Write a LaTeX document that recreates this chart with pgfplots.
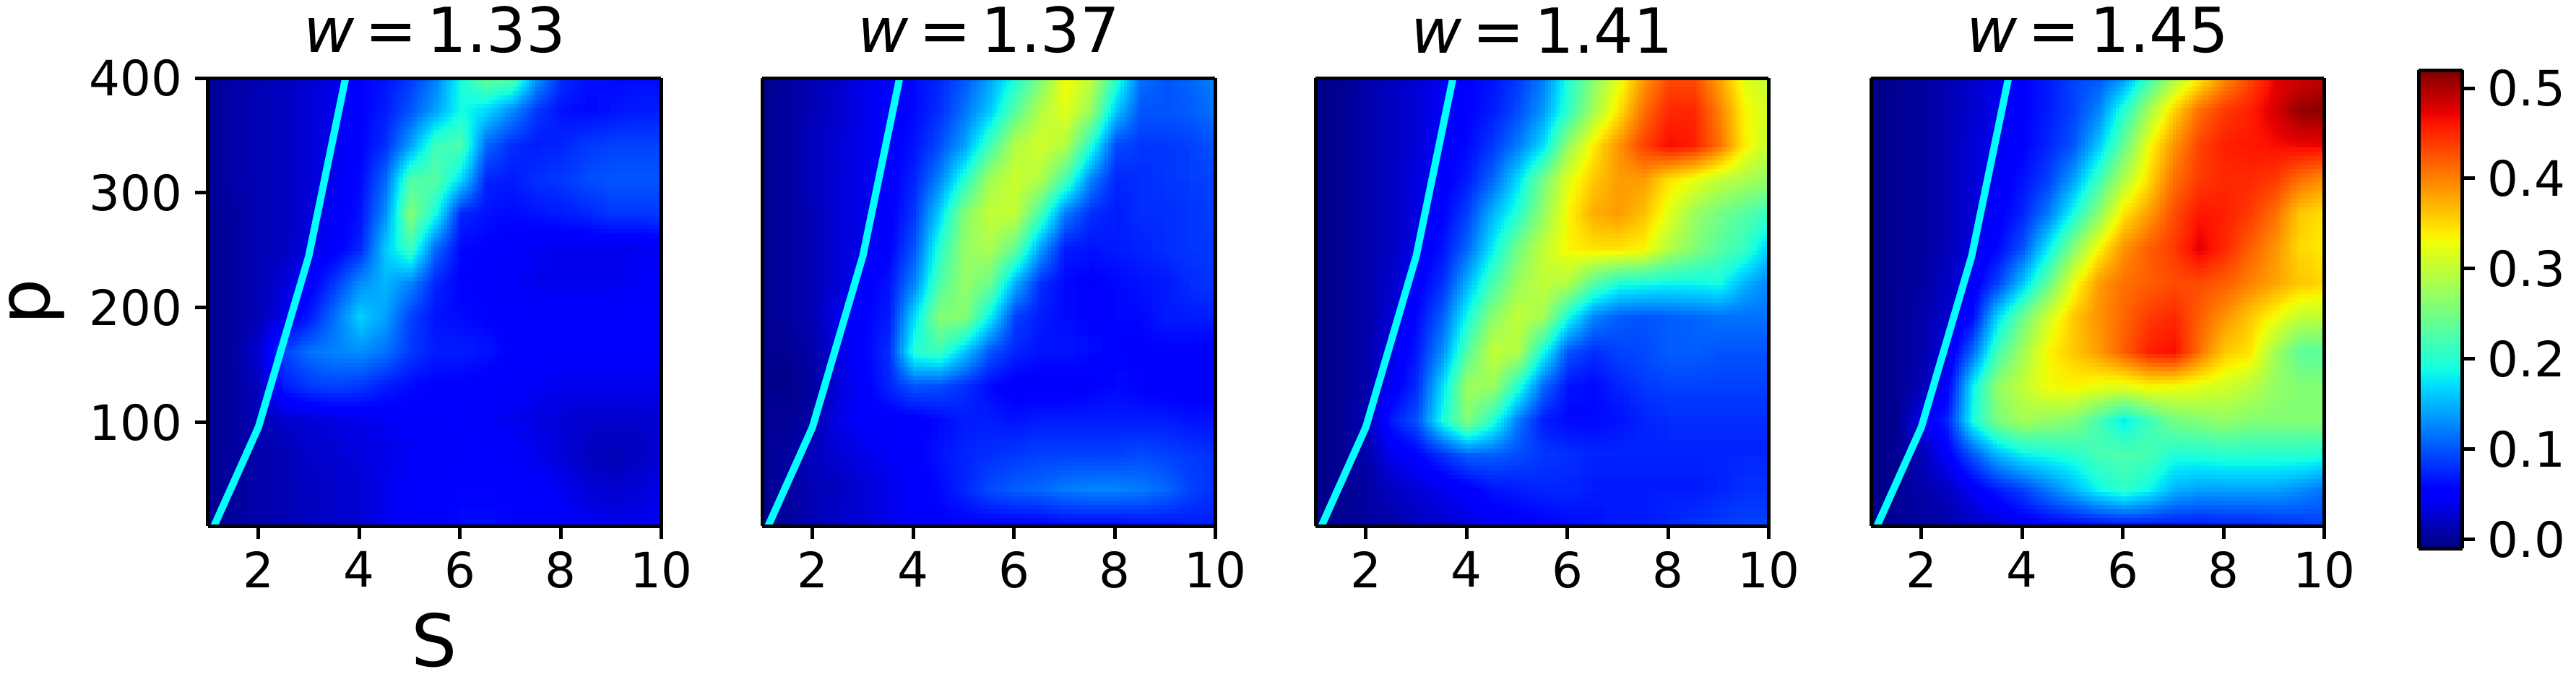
\documentclass[border=0pt]{standalone}
\usepackage{fontspec}
\setmainfont{DejaVu Sans}
\usepackage{pgfplots}
\usepgfplotslibrary{patchplots}
\pgfplotsset{compat=1.18}
\definecolor{linecyan}{rgb}{0,1,1}
\pgfplotsset{
 colormap={mpljet}{rgb(0pt)=(0,0,.5); rgb(22pt)=(0,0,1); rgb(25pt)=(0,0,1); rgb(68pt)=(0,.86,1); rgb(70pt)=(0,.9,.97); rgb(75pt)=(.08,1,.89); rgb(128pt)=(.935,1,.03); rgb(130pt)=(.968,.963,0); rgb(132pt)=(1,.926,0); rgb(178pt)=(1,.074,0); rgb(182pt)=(.91,0,0); rgb(200pt)=(.5,0,0)},
 panel/.style={
  scale only axis, width=125.5pt, height=124pt, anchor=south west,
  xmin=1,xmax=10,ymin=10,ymax=400, view={0}{90},
  colormap name=mpljet, point meta min=-0.01, point meta max=0.52,
  xtick={2,4,6,8,10}, ytick={100,200,300,400},
  tick align=outside, tick pos=left, major tick length=3.5pt,
  every tick/.style={black,line width=1pt},
  axis line style={line width=1pt},
  /pgf/number format/assume math mode=true,
  tick label style={font=\fontsize{13.5}{14}\selectfont},
  title style={font=\fontsize{17.2}{18}\selectfont,yshift=-2.6pt},
  table/row sep=\\,
 },
 heat/.style={surf,shader=interp,patch type=bilinear,mesh/cols=19},
 bound/.style={linecyan,line width=2pt},
}
\begin{document}
\begin{tikzpicture}
\path[use as bounding box] (0,0) rectangle (713.2pt,188.6pt);
\begin{axis}[panel,at={(57.6pt,43pt)},title={\textit{w}\,=\,1.33},
 xlabel={S},ylabel={p},
 xlabel style={font=\fontsize{20}{20}\selectfont},
 ylabel style={font=\fontsize{20}{20}\selectfont}]
\addplot3[heat] table {
1 400 .00\\1.5 400 .01\\2 400 .015\\2.5 400 .02\\3 400 .03\\3.5 400 .04\\4 400 .055\\4.5 400 .065\\5 400 .085\\5.5 400 .12\\6 400 .19\\6.5 400 .245\\7 400 .24\\7.5 400 .14\\8 400 .08\\8.5 400 .065\\9 400 .06\\9.5 400 .06\\10 400 .06\\
1 370 .00\\1.5 370 .01\\2 370 .015\\2.5 370 .02\\3 370 .03\\3.5 370 .04\\4 370 .055\\4.5 370 .07\\5 370 .10\\5.5 370 .14\\6 370 .19\\6.5 370 .17\\7 370 .13\\7.5 370 .085\\8 370 .065\\8.5 370 .06\\9 370 .065\\9.5 370 .07\\10 370 .07\\
1 340 .00\\1.5 340 .01\\2 340 .015\\2.5 340 .02\\3 340 .03\\3.5 340 .04\\4 340 .055\\4.5 340 .08\\5 340 .14\\5.5 340 .215\\6 340 .225\\6.5 340 .11\\7 340 .08\\7.5 340 .07\\8 340 .075\\8.5 340 .085\\9 340 .09\\9.5 340 .09\\10 340 .09\\
1 310 .00\\1.5 310 .01\\2 310 .015\\2.5 310 .02\\3 310 .03\\3.5 310 .04\\4 310 .06\\4.5 310 .11\\5 310 .225\\5.5 310 .23\\6 310 .17\\6.5 310 .075\\7 310 .07\\7.5 310 .08\\8 310 .085\\8.5 310 .095\\9 310 .10\\9.5 310 .10\\10 310 .10\\
1 280 .00\\1.5 280 .005\\2 280 .015\\2.5 280 .02\\3 280 .03\\3.5 280 .045\\4 280 .065\\4.5 280 .13\\5 280 .26\\5.5 280 .19\\6 280 .075\\6.5 280 .065\\7 280 .06\\7.5 280 .065\\8 280 .07\\8.5 280 .075\\9 280 .085\\9.5 280 .085\\10 280 .085\\
1 250 .00\\1.5 250 .005\\2 250 .015\\2.5 250 .02\\3 250 .035\\3.5 250 .05\\4 250 .075\\4.5 250 .16\\5 250 .215\\5.5 250 .11\\6 250 .06\\6.5 250 .055\\7 250 .05\\7.5 250 .045\\8 250 .04\\8.5 250 .04\\9 250 .04\\9.5 250 .04\\10 250 .045\\
1 220 .00\\1.5 220 .005\\2 220 .015\\2.5 220 .03\\3 220 .05\\3.5 220 .085\\4 220 .13\\4.5 220 .15\\5 220 .125\\5.5 220 .075\\6 220 .055\\6.5 220 .05\\7 220 .045\\7.5 220 .04\\8 220 .04\\8.5 220 .04\\9 220 .04\\9.5 220 .045\\10 220 .05\\
1 190 .00\\1.5 190 .005\\2 190 .015\\2.5 190 .04\\3 190 .07\\3.5 190 .115\\4 190 .165\\4.5 190 .14\\5 190 .09\\5.5 190 .065\\6 190 .06\\6.5 190 .055\\7 190 .05\\7.5 190 .05\\8 190 .05\\8.5 190 .05\\9 190 .05\\9.5 190 .05\\10 190 .05\\
1 160 .00\\1.5 160 .005\\2 160 .03\\2.5 160 .09\\3 160 .115\\3.5 160 .125\\4 160 .13\\4.5 160 .115\\5 160 .085\\5.5 160 .07\\6 160 .07\\6.5 160 .065\\7 160 .055\\7.5 160 .05\\8 160 .05\\8.5 160 .05\\9 160 .05\\9.5 160 .05\\10 160 .05\\
1 130 .00\\1.5 130 .005\\2 130 .02\\2.5 130 .07\\3 130 .085\\3.5 130 .09\\4 130 .085\\4.5 130 .07\\5 130 .06\\5.5 130 .055\\6 130 .055\\6.5 130 .05\\7 130 .05\\7.5 130 .045\\8 130 .04\\8.5 130 .04\\9 130 .04\\9.5 130 .04\\10 130 .04\\
1 100 .00\\1.5 100 .005\\2 100 .015\\2.5 100 .025\\3 100 .03\\3.5 100 .035\\4 100 .04\\4.5 100 .045\\5 100 .05\\5.5 100 .05\\6 100 .05\\6.5 100 .045\\7 100 .04\\7.5 100 .035\\8 100 .03\\8.5 100 .025\\9 100 .025\\9.5 100 .025\\10 100 .03\\
1 70 .00\\1.5 70 .005\\2 70 .01\\2.5 70 .015\\3 70 .025\\3.5 70 .03\\4 70 .035\\4.5 70 .04\\5 70 .045\\5.5 70 .045\\6 70 .05\\6.5 70 .05\\7 70 .045\\7.5 70 .04\\8 70 .03\\8.5 70 .02\\9 70 .015\\9.5 70 .02\\10 70 .03\\
1 40 .00\\1.5 40 .005\\2 40 .01\\2.5 40 .015\\3 40 .02\\3.5 40 .025\\4 40 .03\\4.5 40 .04\\5 40 .05\\5.5 40 .05\\6 40 .055\\6.5 40 .055\\7 40 .05\\7.5 40 .05\\8 40 .04\\8.5 40 .03\\9 40 .025\\9.5 40 .03\\10 40 .04\\
1 10 .00\\1.5 10 .005\\2 10 .01\\2.5 10 .015\\3 10 .02\\3.5 10 .025\\4 10 .03\\4.5 10 .04\\5 10 .05\\5.5 10 .055\\6 10 .06\\6.5 10 .06\\7 10 .055\\7.5 10 .055\\8 10 .05\\8.5 10 .045\\9 10 .04\\9.5 10 .04\\10 10 .045\\
};
\addplot3[bound] coordinates {(1.12,10,1) (2,96,1) (3,245,1) (3.73,400,1)};
\end{axis}
\begin{axis}[panel,at={(211pt,43pt)},title={\textit{w}\,=\,1.37},yticklabels={},ytick=\empty]
\addplot3[heat] table {
1 400 .00\\1.5 400 .005\\2 400 .015\\2.5 400 .025\\3 400 .04\\3.5 400 .05\\4 400 .06\\4.5 400 .075\\5 400 .10\\5.5 400 .14\\6 400 .19\\6.5 400 .25\\7 400 .335\\7.5 400 .30\\8 400 .21\\8.5 400 .115\\9 400 .10\\9.5 400 .11\\10 400 .125\\
1 370 .00\\1.5 370 .005\\2 370 .015\\2.5 370 .025\\3 370 .04\\3.5 370 .05\\4 370 .06\\4.5 370 .08\\5 370 .115\\5.5 370 .16\\6 370 .23\\6.5 370 .29\\7 370 .32\\7.5 370 .275\\8 370 .16\\8.5 370 .10\\9 370 .10\\9.5 370 .105\\10 370 .115\\
1 340 .00\\1.5 340 .005\\2 340 .02\\2.5 340 .03\\3 340 .04\\3.5 340 .05\\4 340 .065\\4.5 340 .095\\5 340 .14\\5.5 340 .215\\6 340 .29\\6.5 340 .31\\7 340 .29\\7.5 340 .20\\8 340 .095\\8.5 340 .085\\9 340 .085\\9.5 340 .09\\10 340 .10\\
1 310 .00\\1.5 310 .005\\2 310 .02\\2.5 310 .03\\3 310 .04\\3.5 310 .05\\4 310 .075\\4.5 310 .125\\5 310 .20\\5.5 310 .28\\6 310 .305\\6.5 310 .29\\7 310 .22\\7.5 310 .125\\8 310 .075\\8.5 310 .08\\9 310 .085\\9.5 310 .09\\10 310 .09\\
1 280 .00\\1.5 280 .005\\2 280 .015\\2.5 280 .03\\3 280 .04\\3.5 280 .05\\4 280 .085\\4.5 280 .165\\5 280 .26\\5.5 280 .30\\6 280 .30\\6.5 280 .22\\7 280 .12\\7.5 280 .08\\8 280 .07\\8.5 280 .08\\9 280 .08\\9.5 280 .085\\10 280 .09\\
1 250 .00\\1.5 250 .005\\2 250 .015\\2.5 250 .03\\3 250 .04\\3.5 250 .055\\4 250 .10\\4.5 250 .20\\5 250 .27\\5.5 250 .285\\6 250 .24\\6.5 250 .14\\7 250 .07\\7.5 250 .065\\8 250 .07\\8.5 250 .075\\9 250 .08\\9.5 250 .085\\10 250 .085\\
1 220 .00\\1.5 220 .005\\2 220 .015\\2.5 220 .03\\3 220 .05\\3.5 220 .065\\4 220 .125\\4.5 220 .225\\5 220 .27\\5.5 220 .245\\6 220 .15\\6.5 220 .08\\7 220 .06\\7.5 220 .055\\8 220 .06\\8.5 220 .065\\9 220 .07\\9.5 220 .08\\10 220 .085\\
1 190 .00\\1.5 190 .005\\2 190 .015\\2.5 190 .04\\3 190 .055\\3.5 190 .07\\4 190 .17\\4.5 190 .26\\5 190 .26\\5.5 190 .18\\6 190 .09\\6.5 190 .07\\7 190 .06\\7.5 190 .055\\8 190 .06\\8.5 190 .06\\9 190 .07\\9.5 190 .07\\10 190 .07\\
1 160 .00\\1.5 160 .00\\2 160 .01\\2.5 160 .035\\3 160 .055\\3.5 160 .08\\4 160 .20\\4.5 160 .215\\5 160 .16\\5.5 160 .10\\6 160 .075\\6.5 160 .065\\7 160 .065\\7.5 160 .06\\8 160 .055\\8.5 160 .055\\9 160 .055\\9.5 160 .055\\10 160 .05\\
1 130 -.005\\1.5 130 -.005\\2 130 .005\\2.5 130 .03\\3 130 .05\\3.5 130 .075\\4 130 .10\\4.5 130 .095\\5 130 .08\\5.5 130 .06\\6 130 .05\\6.5 130 .05\\7 130 .05\\7.5 130 .055\\8 130 .06\\8.5 130 .055\\9 130 .05\\9.5 130 .05\\10 130 .05\\
1 100 .00\\1.5 100 .00\\2 100 .01\\2.5 100 .04\\3 100 .05\\3.5 100 .05\\4 100 .05\\4.5 100 .06\\5 100 .07\\5.5 100 .07\\6 100 .065\\6.5 100 .07\\7 100 .07\\7.5 100 .07\\8 100 .07\\8.5 100 .07\\9 100 .07\\9.5 100 .065\\10 100 .065\\
1 70 .00\\1.5 70 .005\\2 70 .02\\2.5 70 .03\\3 70 .04\\3.5 70 .045\\4 70 .055\\4.5 70 .065\\5 70 .075\\5.5 70 .08\\6 70 .085\\6.5 70 .09\\7 70 .09\\7.5 70 .09\\8 70 .09\\8.5 70 .095\\9 70 .09\\9.5 70 .085\\10 70 .08\\
1 40 .00\\1.5 40 .005\\2 40 .015\\2.5 40 .02\\3 40 .03\\3.5 40 .04\\4 40 .05\\4.5 40 .06\\5 40 .075\\5.5 40 .095\\6 40 .105\\6.5 40 .11\\7 40 .12\\7.5 40 .125\\8 40 .125\\8.5 40 .12\\9 40 .11\\9.5 40 .09\\10 40 .08\\
1 10 .00\\1.5 10 .005\\2 10 .015\\2.5 10 .025\\3 10 .03\\3.5 10 .04\\4 10 .05\\4.5 10 .055\\5 10 .055\\5.5 10 .055\\6 10 .055\\6.5 10 .055\\7 10 .06\\7.5 10 .06\\8 10 .06\\8.5 10 .065\\9 10 .065\\9.5 10 .07\\10 10 .07\\
};
\addplot3[bound] coordinates {(1.12,10,1) (2,96,1) (3,245,1) (3.73,400,1)};
\end{axis}
\begin{axis}[panel,at={(364.2pt,43pt)},title={\textit{w}\,=\,1.41},ytick=\empty]
\addplot3[heat] table {
1 400 -.005\\1.5 400 .00\\2 400 .01\\2.5 400 .02\\3 400 .03\\3.5 400 .045\\4 400 .055\\4.5 400 .065\\5 400 .085\\5.5 400 .12\\6 400 .195\\6.5 400 .26\\7 400 .32\\7.5 400 .385\\8 400 .43\\8.5 400 .43\\9 400 .38\\9.5 400 .32\\10 400 .30\\
1 370 -.005\\1.5 370 .00\\2 370 .01\\2.5 370 .02\\3 370 .03\\3.5 370 .045\\4 370 .055\\4.5 370 .07\\5 370 .095\\5.5 370 .135\\6 370 .205\\6.5 370 .28\\7 370 .345\\7.5 370 .41\\8 370 .45\\8.5 370 .45\\9 370 .40\\9.5 370 .335\\10 370 .31\\
1 340 -.005\\1.5 340 .00\\2 340 .01\\2.5 340 .02\\3 340 .03\\3.5 340 .05\\4 340 .06\\4.5 340 .085\\5 340 .12\\5.5 340 .17\\6 340 .27\\6.5 340 .34\\7 340 .39\\7.5 340 .435\\8 340 .465\\8.5 340 .455\\9 340 .41\\9.5 340 .34\\10 340 .30\\
1 310 -.005\\1.5 310 .00\\2 310 .01\\2.5 310 .02\\3 310 .035\\3.5 310 .05\\4 310 .07\\4.5 310 .11\\5 310 .17\\5.5 310 .25\\6 310 .32\\6.5 310 .36\\7 310 .385\\7.5 310 .385\\8 310 .345\\8.5 310 .325\\9 310 .30\\9.5 310 .285\\10 310 .27\\
1 280 -.005\\1.5 280 .00\\2 280 .01\\2.5 280 .02\\3 280 .035\\3.5 280 .055\\4 280 .09\\4.5 280 .15\\5 280 .20\\5.5 280 .27\\6 280 .335\\6.5 280 .375\\7 280 .385\\7.5 280 .365\\8 280 .32\\8.5 280 .275\\9 280 .25\\9.5 280 .23\\10 280 .21\\
1 250 -.005\\1.5 250 .00\\2 250 .01\\2.5 250 .02\\3 250 .04\\3.5 250 .065\\4 250 .11\\4.5 250 .18\\5 250 .25\\5.5 250 .30\\6 250 .335\\6.5 250 .345\\7 250 .345\\7.5 250 .335\\8 250 .29\\8.5 250 .26\\9 250 .23\\9.5 250 .21\\10 250 .16\\
1 220 -.005\\1.5 220 .00\\2 220 .01\\2.5 220 .025\\3 220 .05\\3.5 220 .08\\4 220 .15\\4.5 220 .22\\5 220 .275\\5.5 220 .30\\6 220 .29\\6.5 220 .23\\7 220 .195\\7.5 220 .19\\8 220 .185\\8.5 220 .185\\9 220 .19\\9.5 220 .15\\10 220 .125\\
1 190 -.005\\1.5 190 .00\\2 190 .01\\2.5 190 .03\\3 190 .06\\3.5 190 .105\\4 190 .19\\4.5 190 .265\\5 190 .30\\5.5 190 .28\\6 190 .19\\6.5 190 .125\\7 190 .105\\7.5 190 .10\\8 190 .105\\8.5 190 .11\\9 190 .115\\9.5 190 .115\\10 190 .115\\
1 160 -.005\\1.5 160 .00\\2 160 .01\\2.5 160 .035\\3 160 .07\\3.5 160 .13\\4 160 .23\\4.5 160 .30\\5 160 .29\\5.5 160 .19\\6 160 .10\\6.5 160 .08\\7 160 .09\\7.5 160 .095\\8 160 .105\\8.5 160 .105\\9 160 .10\\9.5 160 .10\\10 160 .10\\
1 130 -.005\\1.5 130 .00\\2 130 .01\\2.5 130 .045\\3 130 .08\\3.5 130 .17\\4 130 .275\\4.5 130 .275\\5 130 .20\\5.5 130 .11\\6 130 .065\\6.5 130 .06\\7 130 .075\\7.5 130 .085\\8 130 .09\\8.5 130 .09\\9 130 .09\\9.5 130 .09\\10 130 .09\\
1 100 -.005\\1.5 100 .00\\2 100 .015\\2.5 100 .07\\3 100 .10\\3.5 100 .19\\4 100 .26\\4.5 100 .20\\5 100 .12\\5.5 100 .07\\6 100 .06\\6.5 100 .06\\7 100 .065\\7.5 100 .075\\8 100 .08\\8.5 100 .08\\9 100 .08\\9.5 100 .08\\10 100 .08\\
1 70 -.005\\1.5 70 .00\\2 70 .01\\2.5 70 .04\\3 70 .055\\3.5 70 .08\\4 70 .105\\4.5 70 .105\\5 70 .095\\5.5 70 .085\\6 70 .08\\6.5 70 .075\\7 70 .075\\7.5 70 .075\\8 70 .075\\8.5 70 .075\\9 70 .075\\9.5 70 .075\\10 70 .075\\
1 40 -.005\\1.5 40 .00\\2 40 .005\\2.5 40 .02\\3 40 .03\\3.5 40 .04\\4 40 .05\\4.5 40 .065\\5 40 .07\\5.5 40 .075\\6 40 .075\\6.5 40 .07\\7 40 .07\\7.5 40 .07\\8 40 .07\\8.5 40 .07\\9 40 .075\\9.5 40 .08\\10 40 .08\\
1 10 -.005\\1.5 10 .00\\2 10 .005\\2.5 10 .01\\3 10 .02\\3.5 10 .025\\4 10 .035\\4.5 10 .045\\5 10 .05\\5.5 10 .055\\6 10 .06\\6.5 10 .065\\7 10 .07\\7.5 10 .07\\8 10 .075\\8.5 10 .08\\9 10 .085\\9.5 10 .09\\10 10 .09\\
};
\addplot3[bound] coordinates {(1.12,10,1) (2,96,1) (3,245,1) (3.73,400,1)};
\end{axis}
\begin{axis}[panel,at={(518pt,43pt)},title={\textit{w}\,=\,1.45},ytick=\empty]
\addplot3[heat] table {
1 400 -.005\\1.5 400 .00\\2 400 .005\\2.5 400 .015\\3 400 .025\\3.5 400 .04\\4 400 .055\\4.5 400 .07\\5 400 .09\\5.5 400 .10\\6 400 .13\\6.5 400 .21\\7 400 .28\\7.5 400 .335\\8 400 .39\\8.5 400 .43\\9 400 .47\\9.5 400 .48\\10 400 .49\\
1 370 -.005\\1.5 370 .00\\2 370 .005\\2.5 370 .015\\3 370 .025\\3.5 370 .04\\4 370 .055\\4.5 370 .07\\5 370 .09\\5.5 370 .125\\6 370 .20\\6.5 370 .28\\7 370 .355\\7.5 370 .41\\8 370 .44\\8.5 370 .455\\9 370 .48\\9.5 370 .51\\10 370 .515\\
1 340 -.005\\1.5 340 .00\\2 340 .005\\2.5 340 .015\\3 340 .03\\3.5 340 .04\\4 340 .055\\4.5 340 .075\\5 340 .10\\5.5 340 .16\\6 340 .24\\6.5 340 .33\\7 340 .39\\7.5 340 .435\\8 340 .455\\8.5 340 .46\\9 340 .465\\9.5 340 .47\\10 340 .47\\
1 310 -.005\\1.5 310 .00\\2 310 .005\\2.5 310 .015\\3 310 .03\\3.5 310 .045\\4 310 .065\\4.5 310 .09\\5 310 .14\\5.5 310 .215\\6 310 .29\\6.5 310 .35\\7 310 .41\\7.5 310 .44\\8 310 .45\\8.5 310 .45\\9 310 .44\\9.5 310 .41\\10 310 .39\\
1 280 -.005\\1.5 280 .00\\2 280 .005\\2.5 280 .015\\3 280 .03\\3.5 280 .05\\4 280 .075\\4.5 280 .12\\5 280 .19\\5.5 280 .265\\6 280 .345\\6.5 280 .385\\7 280 .43\\7.5 280 .46\\8 280 .455\\8.5 280 .44\\9 280 .41\\9.5 280 .36\\10 280 .345\\
1 250 -.005\\1.5 250 .00\\2 250 .005\\2.5 250 .015\\3 250 .035\\3.5 250 .06\\4 250 .10\\4.5 250 .18\\5 250 .26\\5.5 250 .335\\6 250 .39\\6.5 250 .42\\7 250 .44\\7.5 250 .475\\8 250 .45\\8.5 250 .42\\9 250 .39\\9.5 250 .35\\10 250 .34\\
1 220 -.005\\1.5 220 .00\\2 220 .005\\2.5 220 .02\\3 220 .045\\3.5 220 .09\\4 220 .16\\4.5 220 .24\\5 220 .325\\5.5 220 .385\\6 220 .41\\6.5 220 .42\\7 220 .43\\7.5 220 .43\\8 220 .42\\8.5 220 .40\\9 220 .38\\9.5 220 .36\\10 220 .35\\
1 190 -.005\\1.5 190 .00\\2 190 .01\\2.5 190 .025\\3 190 .06\\3.5 190 .17\\4 190 .245\\4.5 190 .31\\5 190 .36\\5.5 190 .39\\6 190 .415\\6.5 190 .44\\7 190 .45\\7.5 190 .42\\8 190 .39\\8.5 190 .36\\9 190 .33\\9.5 190 .30\\10 190 .30\\
1 160 -.005\\1.5 160 .00\\2 160 .01\\2.5 160 .035\\3 160 .11\\3.5 160 .22\\4 160 .28\\4.5 160 .335\\5 160 .36\\5.5 160 .385\\6 160 .42\\6.5 160 .455\\7 160 .465\\7.5 160 .41\\8 160 .36\\8.5 160 .345\\9 160 .28\\9.5 160 .235\\10 160 .23\\
1 130 -.005\\1.5 130 .00\\2 130 .015\\2.5 130 .05\\3 130 .18\\3.5 130 .27\\4 130 .30\\4.5 130 .33\\5 130 .335\\5.5 130 .325\\6 130 .32\\6.5 130 .335\\7 130 .33\\7.5 130 .32\\8 130 .31\\8.5 130 .295\\9 130 .27\\9.5 130 .26\\10 130 .26\\
1 100 -.005\\1.5 100 .00\\2 100 .04\\2.5 100 .075\\3 100 .19\\3.5 100 .255\\4 100 .28\\4.5 100 .27\\5 100 .26\\5.5 100 .22\\6 100 .18\\6.5 100 .215\\7 100 .25\\7.5 100 .26\\8 100 .27\\8.5 100 .26\\9 100 .26\\9.5 100 .26\\10 100 .26\\
1 70 -.005\\1.5 70 .00\\2 70 .015\\2.5 70 .05\\3 70 .10\\3.5 70 .15\\4 70 .18\\4.5 70 .19\\5 70 .20\\5.5 70 .22\\6 70 .225\\6.5 70 .22\\7 70 .195\\7.5 70 .195\\8 70 .20\\8.5 70 .20\\9 70 .20\\9.5 70 .20\\10 70 .195\\
1 40 -.005\\1.5 40 .00\\2 40 .01\\2.5 40 .02\\3 40 .045\\3.5 40 .07\\4 40 .09\\4.5 40 .12\\5 40 .15\\5.5 40 .185\\6 40 .205\\6.5 40 .185\\7 40 .15\\7.5 40 .14\\8 40 .14\\8.5 40 .14\\9 40 .14\\9.5 40 .13\\10 40 .115\\
1 10 -.005\\1.5 10 .00\\2 10 .005\\2.5 10 .01\\3 10 .02\\3.5 10 .03\\4 10 .045\\4.5 10 .055\\5 10 .06\\5.5 10 .065\\6 10 .07\\6.5 10 .07\\7 10 .07\\7.5 10 .07\\8 10 .075\\8.5 10 .075\\9 10 .08\\9.5 10 .085\\10 10 .09\\
};
\addplot3[bound] coordinates {(1.12,10,1) (2,96,1) (3,245,1) (3.73,400,1)};
\end{axis}
\begin{axis}[panel,at={(669.6pt,36.8pt)},width=12.1pt,height=132.4pt,
 xmin=0,xmax=1,ymin=-0.01,ymax=0.52,xtick=\empty,ytick={0,0.1,0.2,0.3,0.4,0.5},
 yticklabel pos=right,ytick pos=right,
 yticklabel style={/pgf/number format/fixed,/pgf/number format/fixed zerofill,/pgf/number format/precision=1}]
\addplot3[surf,shader=interp,mesh/cols=2] table {
0 -0.01 -0.01\\1 -0.01 -0.01\\0 0.52 0.52\\1 0.52 0.52\\
};
\end{axis}
\end{tikzpicture}
\end{document}
